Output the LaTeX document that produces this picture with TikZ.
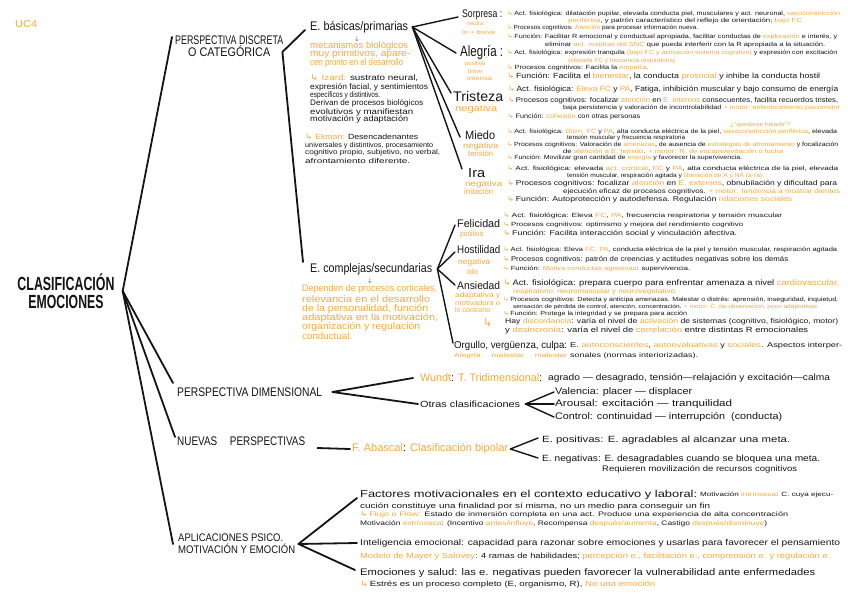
\documentclass[tikz,border=0pt]{standalone}
\usepackage{fontspec}
\setmainfont{Liberation Sans}
\newfontfamily\arrfont{DejaVu Sans}
\usepackage{graphicx}
\usepackage{xcolor}
\definecolor{horange}{RGB}{248,168,56}
\definecolor{ink}{RGB}{20,20,20}
\usepackage{tikz}
\usetikzlibrary{positioning,calc}

\newcommand{\fitw}[2]{\resizebox{#1pt}{\height}{#2}}
\newcommand{\orn}[1]{\textcolor{horange}{#1}}
\newcommand{\hk}{\textcolor{horange}{{\arrfont ↳}}\,}

\begin{document}
\begin{tikzpicture}[
  x=1pt,y=-1pt,
  root/.style={align=center,inner sep=0,text=ink,font=\bfseries\fontsize{19}{18}\selectfont},
  cat/.style={anchor=west,inner sep=0,text=ink,font=\fontsize{12.5}{12}\selectfont},
  sub/.style={anchor=west,inner sep=0,text=ink,font=\fontsize{12.5}{14}\selectfont},
  emo/.style={anchor=west,inner sep=0,text=ink,font=\fontsize{12}{13}\selectfont},
  note/.style={anchor=west,inner sep=0,text=horange,font=\fontsize{8}{9}\selectfont},
  det/.style={anchor=west,inner sep=0,text=ink,font=\fontsize{6}{7}\selectfont},
  link/.style={ink,line width=1.8pt,line cap=round},
  twig/.style={ink,line width=1.4pt,line cap=round}
]
  \useasboundingbox (0,0) rectangle (848,599);

  % Root
  \node[note,font=\fontsize{10}{10}\selectfont] (uc) at (15,24) {\fitw{22}{UC4}};
  \node[root] (clasif) at (66,291) {\fitw{97}{CLASIFICACIÓN}\\\fitw{75}{EMOCIONES}};
  \coordinate (rv) at ([xshift=8pt]clasif.east);

  % Branches of the root
  \node[cat,align=center] (discreta) at (175,46) {\fitw{108}{PERSPECTIVA DISCRETA}\\\fitw{82}{O CATEGÓRICA}};
  \node[cat] (dimen) at (177,392) {\fitw{145}{PERSPECTIVA DIMENSIONAL}};
  \node[cat] (nuevas) at (177,441) {\fitw{128}{NUEVAS \quad PERSPECTIVAS}};
  \node[cat,align=left,font=\fontsize{11}{12}\selectfont] (aplic) at (178,544) {\fitw{105}{APLICACIONES PSICO.}\\\fitw{117}{MOTIVACIÓN Y EMOCIÓN}};

  \draw[link] (rv) -- ([xshift=-3pt,yshift=9pt]discreta.west);
  \draw[link] (rv) -- ([xshift=-4pt,yshift=9pt]dimen.west);
  \draw[link] (rv) -- ([xshift=-2pt,yshift=4pt]nuevas.west);
  \draw[link] (rv) -- ([xshift=-5pt]aplic.west);

  % Discreta: basicas / complejas
  \coordinate (dv) at ([shift={(-1pt,-6pt)}]discreta.east);
  \node[sub] (basicas) at (310,27) {\fitw{98}{E. básicas/primarias}};
  \node[sub] (complejas) at (310,269) {\fitw{122}{E. complejas/secundarias}};
  \draw[link] (dv) -- ([xshift=-5pt,yshift=-3pt]basicas.west);
  \draw[link] (dv) -- ([xshift=-7pt,yshift=7pt]complejas.west);

  \node[inner sep=0,text=ink,font=\fontsize{6}{6}\selectfont] (bdown) at (357,39) {$\downarrow$};
  \node[note,font=\fontsize{9.5}{10}\selectfont] (bn1) at (310,46) {\fitw{98}{mecanismos biológicos}};
  \node[note,font=\fontsize{9.5}{10}\selectfont] (bn2) at (310,54) {\fitw{100}{muy primitivos, apare-}};
  \node[note,font=\fontsize{9.5}{10}\selectfont] (bn3) at (310,63) {\fitw{93}{cen pronto en el desarrollo}};

  \node[det,font=\fontsize{8}{9}\selectfont] (iz1) at (310,78) {\fitw{108}{\orn{\arrfont ↳ }\orn{Izard:} sustrato neural,}};
  \node[det,font=\fontsize{8}{9}\selectfont] (iz2) at (310,87) {\fitw{118}{expresión facial, y sentimientos}};
  \node[det,font=\fontsize{8}{9}\selectfont] (iz3) at (310,95) {\fitw{70}{específicos y distintivos.}};
  \node[det,font=\fontsize{8}{9}\selectfont] (iz4) at (310,103) {\fitw{113}{Derivan de procesos biológicos}};
  \node[det,font=\fontsize{8}{9}\selectfont] (iz5) at (310,112) {\fitw{103}{evolutivos y manifiestan}};
  \node[det,font=\fontsize{8}{9}\selectfont] (iz6) at (310,119) {\fitw{98}{motivación y adaptación}};

  \node[det,font=\fontsize{7.5}{8}\selectfont] (ek1) at (305,137) {\fitw{113}{\orn{\arrfont ↳ }\orn{Ekman:} Desencadenantes}};
  \node[det,font=\fontsize{7}{8}\selectfont] (ek2) at (305,146) {\fitw{128}{universales y distintivos, procesamiento}};
  \node[det,font=\fontsize{7}{8}\selectfont] (ek3) at (305,153) {\fitw{135}{cognitivo propio, subjetivo, no verbal,}};
  \node[det,font=\fontsize{7}{8}\selectfont] (ek4) at (305,161) {\fitw{105}{afrontamiento diferente.}};

  % Basic emotions
  \coordinate (bv) at ([xshift=4pt]basicas.east);
  \node[emo,font=\fontsize{11}{12}\selectfont] (sorpresa) at (462,15) {\fitw{40}{Sorpresa :}};
  \node[emo,font=\fontsize{15}{16}\selectfont] (alegria) at (460,53) {\fitw{43}{Alegría :}};
  \node[emo,font=\fontsize{14}{15}\selectfont] (tristeza) at (453,96) {\fitw{50}{Tristeza}};
  \node[emo] (miedo) at (465,135) {\fitw{30}{Miedo}};
  \node[emo,font=\fontsize{13}{14}\selectfont] (ira) at (468,173) {\fitw{17}{Ira}};
  \draw[twig] (bv) -- ([xshift=-4pt,yshift=-2pt]sorpresa.west);
  \draw[twig] (bv) -- ([xshift=-4pt]alegria.west);
  \draw[twig] (bv) -- ([xshift=-2pt,yshift=3pt]tristeza.west);
  \draw[twig] (bv) -- ([xshift=-5pt,yshift=-2pt]miedo.west);
  \draw[twig] (bv) -- ([xshift=-6pt,yshift=4pt]ira.west);

  \node[note,font=\fontsize{6}{6}\selectfont] (sorN1) at (467,24) {\fitw{16}{neutra}};
  \node[note,font=\fontsize{6}{6}\selectfont] (sorN2) at (462,32) {\fitw{33}{lo + breve}};
  \node[note,font=\fontsize{6}{6}\selectfont] (aleN1) at (465,64) {\fitw{20}{positiva}};
  \node[note,font=\fontsize{6}{6}\selectfont] (aleN2) at (468,71) {\fitw{14}{breve}};
  \node[note,font=\fontsize{6}{6}\selectfont] (aleN3) at (467,78) {\fitw{25}{intensa}};
  \node[note,font=\fontsize{9}{9}\selectfont] (triN) at (455,109) {\fitw{42}{negativa}};
  \node[note] (mieN1) at (463,146) {\fitw{35}{negativa}};
  \node[note] (mieN2) at (468,154) {\fitw{25}{tensión}};
  \node[note] (iraN1) at (465,184) {\fitw{37}{negativa}};
  \node[note] (iraN2) at (464,192) {\fitw{29}{irritación}};

  % Sorpresa
  \node[det] (sorAct) at (507,14) {\fitw{333}{\hk Act. fisiológica: dilatación pupilar, elevada conducta piel, musculares y act. neuronal, \orn{vasoconstricción}}};
  \node[det] (sorAct2) at (568,21) {\fitw{234}{\orn{periférica}, y patrón característico del reflejo de orientación; \orn{bajo FC}}};
  \node[det] (sorCog) at (507,28) {\fitw{191}{\hk Procesos cognitivos: \orn{Atención} para procesar información nueva.}};
  \node[det] (sorFun) at (507,37) {\fitw{330}{\hk Función: Facilitar R emocional y conductual apropiada, facilitar conductas de \orn{exploración} e interés, y}};
  \node[det] (sorFun2) at (545,45) {\fitw{280}{eliminar \orn{act. residual del SNC} que pueda interferir con la R apropiada a la situación.}};

  % Alegria
  \node[det] (aleAct) at (507,53) {\fitw{330}{\hk Act. fisiológica: expresión tranquila \orn{(bajo FC y activación sistema cognitivo)} y expresión con excitación}};
  \node[det] (aleAct2) at (568,61) {\fitw{107}{\orn{(elevada FC y frecuencia respiratoria)}}};
  \node[det] (aleCog) at (507,68) {\fitw{141}{\hk Procesos cognitivos: Facilita la \orn{empatía}.}};
  \node[det,font=\fontsize{7.5}{8}\selectfont] (aleFun) at (507,77) {\fitw{313}{\hk Función: Facilita el \orn{bienestar}, la conducta \orn{prosocial} y inhibe la conducta hostil}};

  % Tristeza
  \node[det,font=\fontsize{7.5}{8}\selectfont] (triAct) at (508,90) {\fitw{330}{\hk Act. fisiológica: \orn{Eleva FC} y \orn{PA}, Fatiga, inhibición muscular y bajo consumo de energía}};
  \node[det,font=\fontsize{7}{8}\selectfont] (triCog) at (508,101) {\fitw{330}{\hk Procesos cognitivos: focalizar \orn{atención} en \orn{E. internos} consecuentes, facilita recuerdos tristes,}};
  \node[det] (triCog2) at (563,108) {\fitw{277}{baja persistencia y valoración de incontrolabilidad \orn{+ motor: enlentecimiento psicomotor}}};
  \node[det,font=\fontsize{6.5}{7}\selectfont] (triFun) at (508,117) {\fitw{132}{\hk Función: \orn{cohesión} con otras personas}};

  % Miedo
  \node[note,font=\fontsize{5.5}{6}\selectfont] (mieQ) at (730,125) {\fitw{60}{¿“quedarse helado”?}};
  \node[det] (mieAct) at (507,132) {\fitw{330}{\hk Act. fisiológica: \orn{Dism. FC} y \orn{PA}, alta conducta eléctrica de la piel, \orn{vasoconstricción periférica}, elevada}};
  \node[det] (mieAct2) at (567,138) {\fitw{118}{tensión muscular y frecuencia respiratoria}};
  \node[det] (mieCog) at (507,145) {\fitw{331}{\hk Procesos cognitivos: Valoración de \orn{amenazas}, de ausencia de \orn{estrategias de afrontamiento} y focalización}};
  \node[det] (mieCog2) at (563,152) {\fitw{220}{de \orn{atención a E. temido}. \orn{+ motor: R. de escape/evitación o lucha}}};
  \node[det] (mieFun) at (507,158) {\fitw{235}{\hk Función: Movilizar gran cantidad de \orn{energía} y favorecer la supervivencia.}};

  % Ira
  \node[det] (iraAct) at (507,169) {\fitw{331}{\hk Act. fisiológica: elevada \orn{act. cortical}, \orn{FC} y \orn{PA}, alta conducta eléctrica de la piel, elevada}};
  \node[det] (iraAct2) at (567,176) {\fitw{195}{tensión muscular, respiración agitada y \orn{liberación de A y NA (a-ra)}}};
  \node[det,font=\fontsize{7}{8}\selectfont] (iraCog) at (507,184) {\fitw{330}{\hk Procesos cognitivos: focalizar \orn{atención} en \orn{E. externos}, obnubilación y dificultad para}};
  \node[det,font=\fontsize{6.5}{7}\selectfont] (iraCog2) at (563,192) {\fitw{277}{ejecución eficaz de procesos cognitivos. \orn{+ motor: tendencia a mostrar dientes}}};
  \node[det,font=\fontsize{7}{8}\selectfont] (iraFun) at (507,200) {\fitw{285}{\hk Función: Autoprotección y autodefensa. Regulación \orn{relaciones sociales}}};

  % Complejas
  \node[inner sep=0,text=ink,font=\fontsize{6}{6}\selectfont] (cdown) at (370,281) {$\downarrow$};
  \node[note,font=\fontsize{9.5}{10}\selectfont] (cp1) at (302,289) {\fitw{135}{Dependen de procesos corticales,}};
  \node[note,font=\fontsize{9.5}{10}\selectfont] (cp2) at (302,299) {\fitw{128}{relevancia en el desarrollo}};
  \node[note,font=\fontsize{9.5}{10}\selectfont] (cp3) at (302,309) {\fitw{126}{de la personalidad, función}};
  \node[note,font=\fontsize{9.5}{10}\selectfont] (cp4) at (302,318) {\fitw{136}{adaptativa en la motivación,}};
  \node[note,font=\fontsize{9.5}{10}\selectfont] (cp5) at (302,327) {\fitw{118}{organización y regulación}};
  \node[note,font=\fontsize{9.5}{10}\selectfont] (cp6) at (302,336) {\fitw{50}{conductual.}};

  \coordinate (cv) at ([xshift=5pt]complejas.east);
  \node[emo,font=\fontsize{11}{12}\selectfont] (felicidad) at (457,224) {\fitw{43}{Felicidad}};
  \node[emo,font=\fontsize{11}{12}\selectfont] (hostilidad) at (457,250) {\fitw{43}{Hostilidad}};
  \node[emo,font=\fontsize{11}{12}\selectfont] (ansiedad) at (457,286) {\fitw{43}{Ansiedad}};
  \node[emo,font=\fontsize{10}{11}\selectfont] (orgullo) at (454,346) {\fitw{113}{Orgullo, vergüenza, culpa:}};
  \draw[twig] (cv) -- ([xshift=-2pt,yshift=-1pt]felicidad.west);
  \draw[twig] (cv) -- ([xshift=-2pt,yshift=-2pt]hostilidad.west);
  \draw[twig] (cv) -- ([xshift=-2pt,yshift=1pt]ansiedad.west);
  \draw[twig] (cv) -- ([xshift=-1pt,yshift=3pt]orgullo.west);

  \node[note] (felN) at (460,234) {\fitw{23}{positiva}};
  \node[note] (hosN1) at (458,262) {\fitw{32}{negativa}};
  \node[note] (hosN2) at (467,272) {\fitw{11}{odio}};
  \node[note,font=\fontsize{7}{7}\selectfont] (ansN1) at (455,296) {\fitw{45}{adaptativa y}};
  \node[note,font=\fontsize{7}{7}\selectfont] (ansN2) at (455,303) {\fitw{45}{motivadora o}};
  \node[note,font=\fontsize{7}{7}\selectfont] (ansN3) at (455,310) {\fitw{35}{lo contrario}};

  % Felicidad
  \node[det] (felAct) at (503,216) {\fitw{279}{\hk Act. fisiológica: Eleva \orn{FC}, \orn{PA}, frecuencia respiratoria y tensión muscular}};
  \node[det] (felCog) at (503,225) {\fitw{240}{\hk Procesos cognitivos: optimismo y mejora del rendimiento cognitivo}};
  \node[det,font=\fontsize{7}{8}\selectfont] (felFun) at (503,234) {\fitw{234}{\hk Función: Facilita interacción social y vinculación afectiva.}};

  % Hostilidad
  \node[det] (hosAct) at (503,250) {\fitw{334}{\hk Act. fisiológica: Eleva \orn{FC, PA}, conducta eléctrica de la piel y tensión muscular, respiración agitada}};
  \node[det,font=\fontsize{7}{8}\selectfont] (hosCog) at (503,260) {\fitw{285}{\hk Procesos cognitivos: patrón de creencias y actitudes negativas sobre los demás}};
  \node[det] (hosFun) at (503,269) {\fitw{187}{\hk Función: \orn{Motiva conductas agresivas}: supervivencia.}};

  % Ansiedad
  \node[det,font=\fontsize{8}{9}\selectfont] (ansAct) at (503,283) {\fitw{336}{\hk Act. fisiológica: prepara cuerpo para enfrentar amenaza a nivel \orn{cardiovascular,}}};
  \node[det,font=\fontsize{6.5}{7}\selectfont] (ansAct2) at (513,292) {\fitw{164}{\orn{respiratorio, neuromuscular y neurovegetativo.}}};
  \node[det] (ansCog) at (503,300) {\fitw{335}{\hk Procesos cognitivos: Detecta y anticipa amenazas. Malestar o distrés: aprensión, inseguridad, inquietud,}};
  \node[det,font=\fontsize{5.5}{6}\selectfont] (ansCog2) at (513,307) {\fitw{304}{sensación de pérdida de control, atención, concentración. \orn{+ motor: C. de observación, poco adaptativas}}};
  \node[det] (ansFun) at (503,314) {\fitw{184}{\hk Función: Protege la integridad y se prepara para acción}};
  \node[note,font=\fontsize{11}{11}\selectfont] (ansHook) at (483,323) {\arrfont ↳};
  \node[det,font=\fontsize{7}{8}\selectfont] (ansHay) at (505,322) {\fitw{333}{Hay \orn{discordancia}: varía el nivel de \orn{activación} de sistemas (cognitivo, fisiológico, motor)}};
  \node[det,font=\fontsize{7.5}{8}\selectfont] (ansDes) at (505,331) {\fitw{303}{y \orn{desincronía}: varía el nivel de \orn{correlación} entre distintas R emocionales}};

  % Orgullo
  \node[det,font=\fontsize{7}{8}\selectfont] (orgDet) at (570,346) {\fitw{272}{E. \orn{autoconscientes}, \orn{autoevaluativas} y \orn{sociales}. Aspectos interper-}};
  \node[note,font=\fontsize{6}{6}\selectfont] (orgN) at (454,356) {\fitw{113}{Alegría \quad malestar \quad malestar}};
  \node[det,font=\fontsize{6.5}{7}\selectfont] (orgDet2) at (570,356) {\fitw{128}{sonales (normas interiorizadas).}};

  % Dimensional
  \coordinate (mv) at ([xshift=10pt]dimen.east);
  \node[note,font=\fontsize{11}{12}\selectfont] (wundt) at (420,378) {\fitw{122}{Wundt\textcolor{ink}{:} T. Tridimensional\textcolor{ink}{:}}};
  \node[det,font=\fontsize{9}{10}\selectfont] (wundtDet) at (548,378) {\fitw{282}{agrado — desagrado, tensión—relajación y excitación—calma}};
  \node[det,font=\fontsize{9}{10}\selectfont] (otras) at (420,404) {\fitw{100}{Otras clasificaciones}};
  \draw[link] (mv) -- ([xshift=-7pt]wundt.west);
  \draw[link] (mv) -- ([xshift=-2pt]otras.west);

  \coordinate (ov) at ([xshift=5pt]otras.east);
  \node[det,font=\fontsize{9.5}{10}\selectfont] (valencia) at (555,392) {\fitw{137}{Valencia: placer — displacer}};
  \node[det,font=\fontsize{9.5}{10}\selectfont] (arousal) at (555,404) {\fitw{177}{Arousal: excitación — tranquilidad}};
  \node[det,font=\fontsize{9.5}{10}\selectfont] (control) at (555,417) {\fitw{227}{Control: continuidad — interrupción \ (conducta)}};
  \draw[twig] (ov) -- ([xshift=-1pt]valencia.west);
  \draw[twig] (ov) -- ([xshift=-1pt]arousal.west);
  \draw[twig] (ov) -- ([xshift=-1pt]control.west);

  % Nuevas perspectivas
  \node[note,font=\fontsize{11}{12}\selectfont] (abascal) at (352,449) {\fitw{156}{F. Abascal\textcolor{ink}{:} Clasificación bipolar}};
  \draw[link] ([shift={(12pt,-7pt)}]nuevas.east) -- ([xshift=-2pt]abascal.west);
  \coordinate (av) at ([xshift=2pt]abascal.east);
  \node[det,font=\fontsize{9}{10}\selectfont] (epos) at (542,440) {\fitw{248}{E. positivas: E. agradables al alcanzar una meta.}};
  \node[det,font=\fontsize{9}{10}\selectfont] (eneg) at (542,459) {\fitw{278}{E. negativas: E. desagradables cuando se bloquea una meta.}};
  \node[det,font=\fontsize{8}{9}\selectfont] (eneg2) at (602,469) {\fitw{195}{Requieren movilización de recursos cognitivos}};
  \draw[twig] (av) -- ([xshift=-4pt,yshift=2pt]epos.west);
  \draw[twig] (av) -- ([xshift=-4pt,yshift=1pt]eneg.west);

  % Aplicaciones
  \coordinate (pv) at ([xshift=3pt]aplic.east);
  \node[det,font=\fontsize{10}{11}\selectfont] (factores) at (360,495) {\fitw{337}{Factores motivacionales en el contexto educativo y laboral:}};
  \node[det] (facDet) at (700,495) {\fitw{133}{Motivación \orn{intrínseca}: C. cuya ejecu-}};
  \node[det,font=\fontsize{7.5}{8}\selectfont] (fac2) at (360,507) {\fitw{350}{cución constituye una finalidad por sí misma, no un medio para conseguir un fin}};
  \node[det,font=\fontsize{6.5}{7}\selectfont] (fac3) at (360,515) {\fitw{428}{\hk\orn{Flujo o Flow:} Estado de inmersión completa en una act. Produce una experiencia de alta concentración}};
  \node[det,font=\fontsize{6.5}{7}\selectfont] (fac4) at (360,524) {\fitw{407}{Motivación \orn{extrínseca}: (Incentivo \orn{antes/influye}, Recompensa \orn{después/aumenta}, Castigo \orn{después/disminuye})}};
  \node[det,font=\fontsize{8.5}{9}\selectfont] (intel) at (360,543) {\fitw{480}{Inteligencia emocional: capacidad para razonar sobre emociones y usarlas para favorecer el pensamiento}};
  \node[det,font=\fontsize{7.5}{8}\selectfont] (intel2) at (360,557) {\fitw{470}{\orn{Modelo de Mayer y Salovey}: 4 ramas de habilidades; \orn{percepción e., facilitación e., comprensión e. y regulación e.}}};
  \node[det,font=\fontsize{9.5}{10}\selectfont] (salud) at (360,573) {\fitw{455}{Emociones y salud: las e. negativas pueden favorecer la vulnerabilidad ante enfermedades}};
  \node[det,font=\fontsize{7.5}{8}\selectfont] (salud2) at (360,585) {\fitw{295}{\hk Estrés es un proceso completo (E, organismo, R), \orn{No una emoción}}};
  \draw[link] (pv) -- ([xshift=-3pt,yshift=-3pt]factores.west);
  \draw[link] (pv) -- ([xshift=-3pt]intel.west);
  \draw[link] (pv) -- ([xshift=-5pt,yshift=3pt]salud.west);
\end{tikzpicture}
\end{document}
